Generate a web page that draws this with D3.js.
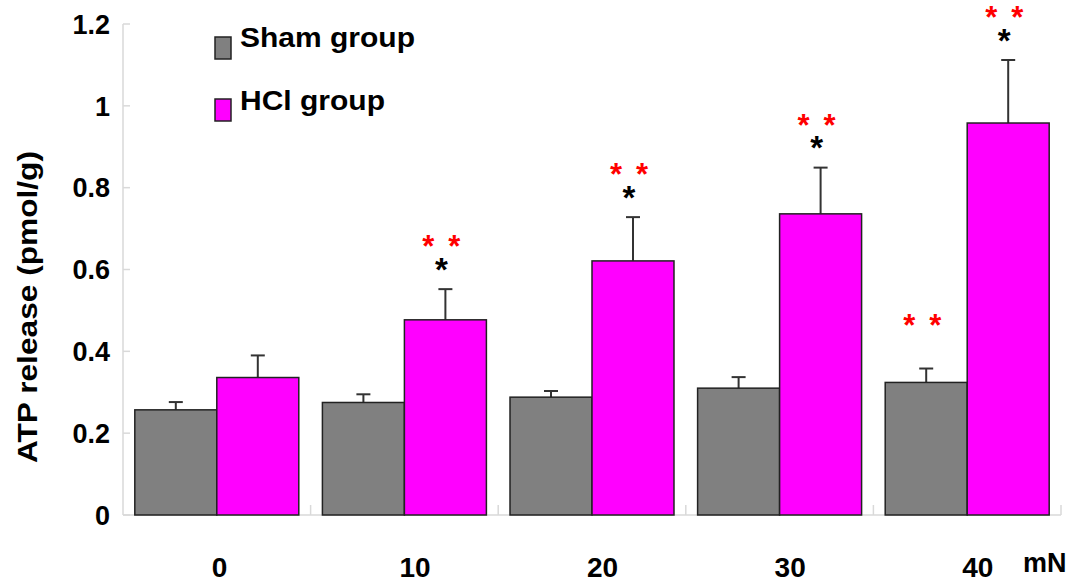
<!DOCTYPE html>
<html>
<head>
<meta charset="utf-8">
<script src="https://cdn.jsdelivr.net/npm/d3@7"></script>
<style>
  body { margin: 0; background: #fff; }
  text { font-family: "Liberation Sans", Arial, sans-serif; font-weight: bold; }
</style>
</head>
<body>
<svg id="chart" width="1073" height="586"></svg>
<script>
// data
const forces = ["0", "10", "20", "30", "40"];
const shamValues = [0.257, 0.275, 0.288, 0.310, 0.324];
const shamErrors = [0.019, 0.020, 0.015, 0.027, 0.034];
const hclValues = [0.336, 0.477, 0.621, 0.736, 0.958];
const hclErrors = [0.054, 0.075, 0.107, 0.113, 0.154];
const yTicks = [0, 0.2, 0.4, 0.6, 0.8, 1, 1.2];
// significance marks: black "*" and red "* *"
const hclBlackStar = [false, true, true, true, true];
const hclRedStars = [false, true, true, true, true];
const shamRedStars = [false, false, false, false, true];

const svg = d3.select("#chart");
const plotLeft = 123, plotRight = 1061, plotTop = 24, plotBottom = 515;

const x0 = d3.scaleBand()
    .domain(forces)
    .range([plotLeft, plotRight])
    .paddingInner(0)
    .paddingOuter(0);

const x1 = d3.scaleBand()
    .domain(["sham", "hcl"])
    .range([0, x0.bandwidth()])
    .paddingInner(0)
    .paddingOuter(0.144);

const y = d3.scaleLinear()
    .domain([0, 1.2])
    .range([plotBottom, plotTop]);

const rows = forces.map((f, i) => ({
    force: f,
    bars: [
        {key: "sham", value: shamValues[i], err: shamErrors[i], black: false, red: shamRedStars[i]},
        {key: "hcl", value: hclValues[i], err: hclErrors[i], black: hclBlackStar[i], red: hclRedStars[i]}
    ]
}));
const colors = {sham: "#808080", hcl: "#ff00ff"};

// y axis (light grey, ticks pointing inward)
svg.append("line")
    .attr("x1", plotLeft).attr("x2", plotLeft)
    .attr("y1", y(1.2)).attr("y2", plotBottom)
    .attr("stroke", "#d9d9d9").attr("stroke-width", 1.5);
svg.append("g").selectAll("line")
    .data(yTicks)
    .enter().append("line")
    .attr("x1", plotLeft).attr("x2", plotLeft + 7)
    .attr("y1", d => y(d)).attr("y2", d => y(d))
    .attr("stroke", "#d9d9d9").attr("stroke-width", 1.5);
svg.append("g").selectAll("text")
    .data(yTicks)
    .enter().append("text")
    .attr("x", 110)
    .attr("y", d => y(d))
    .attr("dy", "0.36em")
    .attr("text-anchor", "end")
    .attr("font-size", 27)
    .text(d => +d.toFixed(1));

// x axis
svg.append("line")
    .attr("x1", plotLeft).attr("x2", plotRight)
    .attr("y1", plotBottom).attr("y2", plotBottom)
    .attr("stroke", "#d9d9d9").attr("stroke-width", 1.5);
svg.append("g").selectAll("line")
    .data(forces.slice(1).concat(["end"]))
    .enter().append("line")
    .attr("x1", d => d === "end" ? plotRight : x0(d))
    .attr("x2", d => d === "end" ? plotRight : x0(d))
    .attr("y1", plotBottom).attr("y2", plotBottom - 10)
    .attr("stroke", "#d9d9d9").attr("stroke-width", 1.5);
svg.append("g").selectAll("text")
    .data(forces)
    .enter().append("text")
    .attr("x", d => x0(d) + x0.bandwidth() / 2 - 5)
    .attr("y", 577)
    .attr("font-size", 28)
    .text(d => d);
svg.append("text")
    .attr("x", 1023).attr("y", 572)
    .attr("font-size", 27)
    .text("mN");

// y title
svg.append("text")
    .attr("transform", "translate(37," + 307 + ") rotate(-90)")
    .attr("text-anchor", "middle")
    .attr("font-size", 27)
    .attr("textLength", 312)
    .attr("lengthAdjust", "spacingAndGlyphs")
    .text("ATP release (pmol/g)");

// bars
const groups = svg.append("g").selectAll("g")
    .data(rows)
    .enter().append("g")
    .attr("transform", d => "translate(" + x0(d.force) + ",0)");

const bar = groups.selectAll("g")
    .data(d => d.bars)
    .enter().append("g");

// error bars (upper only)
bar.append("line")
    .attr("x1", d => x1(d.key) + x1.bandwidth() / 2)
    .attr("x2", d => x1(d.key) + x1.bandwidth() / 2)
    .attr("y1", d => y(d.value))
    .attr("y2", d => y(d.value + d.err))
    .attr("stroke", "#333").attr("stroke-width", 2);
bar.append("line")
    .attr("x1", d => x1(d.key) + x1.bandwidth() / 2 - 7)
    .attr("x2", d => x1(d.key) + x1.bandwidth() / 2 + 7)
    .attr("y1", d => y(d.value + d.err))
    .attr("y2", d => y(d.value + d.err))
    .attr("stroke", "#333").attr("stroke-width", 2);

bar.append("rect")
    .attr("x", d => x1(d.key))
    .attr("y", d => y(d.value))
    .attr("width", x1.bandwidth())
    .attr("height", d => plotBottom - y(d.value))
    .attr("fill", d => colors[d.key])
    .attr("stroke", "#222")
    .attr("stroke-width", 1.5);

// asterisks
const blackSize = 33, redSize = 31;
bar.filter(d => d.black).append("text")
    .attr("x", d => x1(d.key) + x1.bandwidth() / 2 - 4)
    .attr("y", d => y(d.value + d.err) - 23 + blackSize * 0.45)
    .attr("text-anchor", "middle")
    .attr("font-size", blackSize)
    .attr("fill", "#000")
    .text("*");
bar.filter(d => d.red).each(function(d) {
    const cy = y(d.value + d.err) - 46;
    const cx = x1(d.key) + x1.bandwidth() / 2 - 4;
    [-13, 13].forEach(off => {
        d3.select(this).append("text")
            .attr("x", cx + off)
            .attr("y", cy + redSize * 0.45)
            .attr("text-anchor", "middle")
            .attr("font-size", redSize)
            .attr("fill", "#ff0000")
            .text("*");
    });
});

// legend
const legend = [
    {key: "sham", label: "Sham group", y: 37, base: 47, len: 175},
    {key: "hcl", label: "HCl group", y: 99, base: 110, len: 145}
];
const lg = svg.append("g").selectAll("g")
    .data(legend)
    .enter().append("g");
lg.append("rect")
    .attr("x", 215).attr("y", d => d.y)
    .attr("width", 16).attr("height", 22)
    .attr("fill", d => colors[d.key])
    .attr("stroke", "#222").attr("stroke-width", 1.5);
lg.append("text")
    .attr("x", 240).attr("y", d => d.base)
    .attr("font-size", 28)
    .attr("textLength", d => d.len)
    .attr("lengthAdjust", "spacingAndGlyphs")
    .text(d => d.label);
</script>
</body>
</html>
